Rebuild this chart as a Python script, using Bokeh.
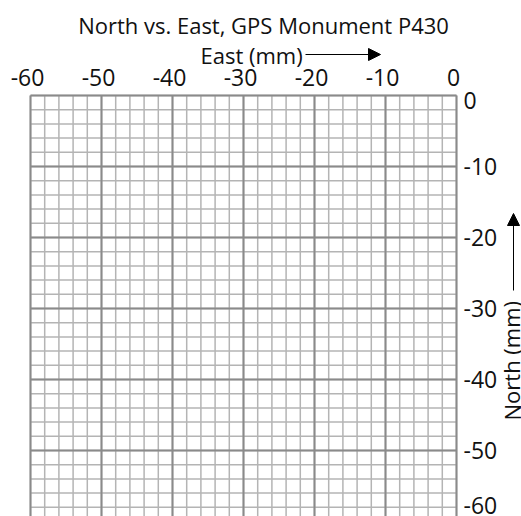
from bokeh.plotting import figure
from bokeh.models import Range1d, Label, Arrow, NormalHead
from bokeh.core.properties import value
from bokeh.embed import file_html
from bokeh.resources import INLINE

title_text = "North vs. East, GPS Monument P430"
x_label = "East (mm)"
y_label = "North (mm)"
x_ticks = [-60, -50, -40, -30, -20, -10, 0]
y_ticks = [0, -10, -20, -30, -40, -50, -60]
x_tick_labels = ["-60", "-50", "-40", "-30", "-20", "-10", "0"]
y_tick_labels = ["0", "-10", "-20", "-30", "-40", "-50", "-60"]
x_minor = list(range(-60, 1, 2))
y_minor = list(range(-60, 1, 2))

FONT = "Open Sans"
MAJOR = "#8a8a8a"
MINOR = "#b4b4b4"
TXT = "#111111"

# layout in canvas pixels: the grid box starts at (30, 95) and is 426 px wide
W, H = 521, 516
BOX_L, BOX_T, BOX_W = 30, 95, 426
xmin, xmax = min(x_ticks), max(x_ticks)
ymin, ymax = min(y_ticks), max(y_ticks)
ppu = BOX_W / (xmax - xmin)          # pixels per mm, same on both axes

x_range = Range1d(xmin - BOX_L / ppu, xmin + (W - BOX_L) / ppu)
y_range = Range1d(ymax - (H - BOX_T) / ppu, ymax + BOX_T / ppu)

p = figure(width=W, height=H, x_range=x_range, y_range=y_range,
           output_backend="svg", toolbar_location=None,
           min_border=0, x_axis_type=None, y_axis_type=None)
p.background_fill_color = "white"
p.border_fill_color = "white"
p.outline_line_color = None
p.grid.visible = False

# minor grid (every 2 mm), then major grid (every 10 mm)
p.segment(x0=x_minor, y0=[ymin] * len(x_minor), x1=x_minor, y1=[ymax] * len(x_minor),
          line_color=MINOR, line_width=1.5)
p.segment(x0=[xmin] * len(y_minor), y0=y_minor, x1=[xmax] * len(y_minor), y1=y_minor,
          line_color=MINOR, line_width=1.5)
p.segment(x0=x_ticks, y0=[ymin] * len(x_ticks), x1=x_ticks, y1=[ymax] * len(x_ticks),
          line_color=MAJOR, line_width=2)
p.segment(x0=[xmin] * len(y_ticks), y0=y_ticks, x1=[xmax] * len(y_ticks), y1=y_ticks,
          line_color=MAJOR, line_width=2)

# tick labels along the top and right edges of the grid (offsets in screen px, +y is down)
p.text(x=x_ticks, y=[ymax] * len(x_ticks), text=x_tick_labels,
       text_font=value(FONT), text_font_size="23px", text_color=TXT,
       text_align="center", text_baseline="alphabetic", x_offset=-3, y_offset=-18)
y_off = [5 if v == ymax else (-16 if v == ymin else 0) for v in y_ticks]
p.text(x=[xmax] * len(y_ticks), y=y_ticks, text=y_tick_labels,
       text_font=value(FONT), text_font_size="23px", text_color=TXT,
       text_align="left", text_baseline="middle", x_offset=7, y_offset=y_off)

# screen units: x from the left, y from the bottom of the canvas
def sy(Y):
    return H - Y

p.add_layout(Label(x=263, y=sy(24), x_units="screen", y_units="screen", text=title_text,
                   text_font=FONT, text_font_size="22px", text_align="center",
                   text_baseline="middle", text_color=TXT))
p.add_layout(Label(x=200, y=sy(54), x_units="screen", y_units="screen", text=x_label,
                   text_font=FONT, text_font_size="22px", text_align="left",
                   text_baseline="middle", text_color=TXT))
p.add_layout(Label(x=511, y=sy(420), x_units="screen", y_units="screen", text=y_label,
                   text_font=FONT, text_font_size="22px", text_align="left",
                   text_baseline="middle", angle=1.5708, text_color=TXT))

p.add_layout(Arrow(x_start=305, y_start=sy(54), x_end=380, y_end=sy(54),
                   start_units="screen", end_units="screen",
                   line_width=1, line_color="black",
                   end=NormalHead(size=12, fill_color="black", line_color="black")))
p.add_layout(Arrow(x_start=513, y_start=sy(290), x_end=513, y_end=sy(213),
                   start_units="screen", end_units="screen",
                   line_width=1, line_color="black",
                   end=NormalHead(size=12, fill_color="black", line_color="black")))

open("out.html", "w").write(file_html(p, INLINE))
